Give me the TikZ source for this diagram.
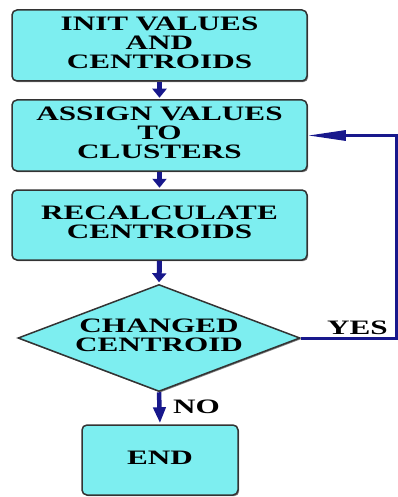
\documentclass[tikz,border=0pt]{standalone}
\usepackage{fontspec}
\setmainfont{Liberation Serif}
\usetikzlibrary{shapes.geometric,arrows.meta,shadows}
\definecolor{boxfill}{RGB}{125,238,240}
\definecolor{navy}{RGB}{24,24,140}
\newcommand{\stx}[1]{\scalebox{1.52}[1]{\bfseries\fontsize{20.5}{17.5}\selectfont\begin{tabular}{@{}c@{}}#1\end{tabular}}}
\begin{document}
\begin{tikzpicture}[x=1pt,y=-1pt,
  shapebase/.style={draw=black!80, line width=1.5pt, fill=boxfill, inner sep=0pt,
    drop shadow={shadow xshift=1.2pt,shadow yshift=-1.2pt,opacity=0.5,fill=black}},
  box/.style={shapebase, rounded corners=5pt},
  dia/.style={shapebase, diamond, aspect=2.64, minimum width=282pt, minimum height=107pt},
  lbl/.style={inner sep=0pt},
  downarr/.style={navy, line width=5pt, shorten >=1.5pt, -{Triangle[length=9pt,width=14pt]}},
  noarr/.style={navy, line width=4.5pt, shorten >=1pt, -{Triangle[length=16pt,width=12pt]}},
  fbarr/.style={navy, line width=3pt, -{Triangle[length=38pt,width=10pt]}}]
\useasboundingbox (0,0) rectangle (398,497);
\node[box, minimum width=295pt, minimum height=71pt] (init) at (159.5,45.5) {\stx{INIT VALUES\\AND\\CENTROIDS}};
\node[box, minimum width=295pt, minimum height=71pt] (assign) at (159.5,135.5) {\stx{ASSIGN VALUES\\TO\\CLUSTERS}};
\node[box, minimum width=295pt, minimum height=70pt] (recalc) at (159.5,225) {\stx{RECALCULATE\\CENTROIDS}};
\node[dia] (chg) at (159,338) {\stx{CHANGED\\CENTROID}};
\node[box, minimum width=156pt, minimum height=70pt] (end) at (160,460) {\stx{END}};
\coordinate (fb) at (396.5,0);
\draw[downarr] (init.south) -- (assign.north);
\draw[downarr] (assign.south) -- (recalc.north);
\draw[downarr] (recalc.south) -- (chg.north);
\draw[noarr] (chg.south) -- (end.north);
\draw[fbarr] (chg.east) -- (chg.east -| fb) -- (assign.east -| fb) -- (assign.east);
\node[lbl, anchor=base west] (yes) at (327,336) {\stx{YES}};
\node[lbl, anchor=base west] (no) at (173,415) {\stx{NO}};
\end{tikzpicture}
\end{document}
